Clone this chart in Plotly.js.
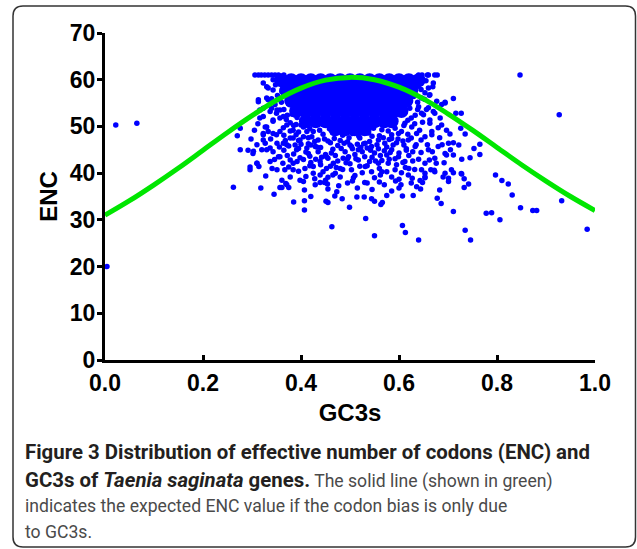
<!DOCTYPE html>
<html>
<head>
<meta charset="utf-8">
<script src="https://cdn.plot.ly/plotly-3.0.1.min.js"></script>
<style>
html,body{margin:0;padding:0;background:#ffffff;}
#chart{width:637px;height:549px;}
</style>
</head>
<body>
<div id="chart"></div>
<script>
// Expected ENC curve (GC3s -> ENC)
const curveGC3s = [0, 0.05, 0.1, 0.15, 0.2, 0.25, 0.3, 0.35, 0.4, 0.45, 0.5, 0.55, 0.6, 0.65, 0.7, 0.75, 0.8, 0.85, 0.9, 0.95, 1.0];
const curveENC  = [31.0, 34.1, 37.5, 41.1, 44.9, 48.7, 52.3, 55.6, 58.2, 59.9, 60.5, 60.0, 58.4, 55.9, 52.7, 49.2, 45.5, 41.8, 38.3, 35.0, 32.0];

// Dense (saturated) core of the gene cloud: one ENC level per row with its GC3s values
const coreRowENC = [59.9, 57.7, 55.5, 53.3, 51.1, 49.4];
const coreRowGC3s = [
  [0.36, 0.38, 0.40, 0.42, 0.44, 0.46, 0.48, 0.50, 0.52, 0.54, 0.56, 0.58, 0.60, 0.62, 0.64],
  [0.37, 0.39, 0.41, 0.43, 0.45, 0.47, 0.49, 0.51, 0.53, 0.55, 0.57, 0.59, 0.61, 0.625],
  [0.38, 0.40, 0.42, 0.44, 0.46, 0.48, 0.50, 0.52, 0.54, 0.56, 0.58, 0.60, 0.615],
  [0.39, 0.41, 0.43, 0.45, 0.47, 0.49, 0.51, 0.53, 0.55, 0.57, 0.59, 0.605],
  [0.41, 0.43, 0.45, 0.47, 0.49, 0.51, 0.53, 0.55, 0.57, 0.585],
  [0.47, 0.49, 0.51, 0.53]
];

// Individual genes outside the saturated core: [GC3s, ENC]
const genePoints = [
  // far outliers
  [0.004,20.0],[0.022,50.3],[0.065,50.7],[0.847,61.0],[0.927,52.5],[0.932,34.1],[0.984,28.0],
  // top row at ENC 61
  [0.306,61.0],[0.313,61.0],[0.319,61.0],[0.326,61.0],[0.333,61.0],[0.340,61.0],[0.347,61.0],[0.354,61.0],
  [0.640,61.0],[0.647,61.0],[0.658,61.0],[0.678,61.0],[0.365,61.0],
  // left fringe
  [0.262,37.0],[0.296,41.3],[0.276,45.0],[0.270,48.0],[0.276,49.6],
  [0.330,58.5],[0.333,55.7],[0.313,55.7],[0.316,53.5],[0.323,52.1],[0.343,57.8],[0.351,53.5],[0.330,49.9],
  [0.343,48.5],[0.323,47.1],[0.351,46.4],[0.302,44.2],[0.330,45.0],[0.357,43.5],[0.363,42.1],[0.378,42.8],
  [0.384,40.7],[0.351,40.7],[0.361,38.5],[0.371,37.5],[0.398,38.5],[0.425,40.0],[0.429,37.5],[0.343,60.0],[0.357,59.3],
  [0.323,59.3],[0.333,58.2],[0.330,56.1],[0.323,53.9],[0.316,51.8],[0.337,53.2],[0.347,54.7],[0.343,51.1],
  [0.357,51.8],[0.364,49.7],[0.350,48.2],[0.323,48.2],[0.310,46.1],[0.303,44.7],[0.337,45.4],[0.371,46.1],
  [0.384,47.5],[0.361,57.5],[0.354,59.7],
  [0.313,55.3],[0.340,53.9],[0.350,52.8],[0.343,51.4],[0.327,49.9],[0.333,48.9],[0.323,48.5],[0.327,46.4],
  [0.320,45.0],[0.343,44.6],[0.354,43.5],[0.337,42.5],[0.310,42.1],[0.296,40.7],[0.367,40.7],[0.384,42.1],
  [0.408,41.0],[0.439,39.6],[0.452,41.0],[0.480,39.2],[0.378,39.2],[0.364,46.4],[0.378,47.5],[0.398,47.1],
  [0.391,45.0],[0.415,44.2],[0.429,45.7],[0.452,43.5],[0.466,42.1],[0.486,43.2],[0.439,42.5],[0.357,48.9],
  [0.371,50.3],[0.384,49.2],[0.412,48.9],[0.422,47.8],[0.364,52.1],[0.357,53.5],
  [0.352,56.6],[0.360,55.2],[0.365,53.6],[0.372,52.4],[0.378,50.8],[0.390,50.4],[0.340,55.9],[0.348,58.9],
  [0.362,57.9],[0.370,51.5],[0.392,51.9],[0.400,50.3],
  [0.390,53.9],[0.382,52.6],[0.375,54.8],[0.368,56.6],[0.372,59.3],[0.355,60.4],
  [0.305,49.2],[0.298,47.3],[0.312,50.6],[0.292,44.9],[0.346,42.9],[0.356,45.6],[0.368,47.0],[0.338,47.3],
  [0.378,49.0],[0.372,43.8],[0.365,44.9],[0.388,46.0],[0.398,43.3],[0.392,42.5],
  // lower fringe
  [0.318,36.8],[0.328,39.4],[0.345,35.5],[0.310,42.1],[0.314,41.4],[0.341,41.0],[0.357,36.9],[0.361,36.9],
  [0.369,37.8],[0.375,36.9],[0.385,33.8],[0.407,36.4],[0.407,34.1],[0.407,32.1],[0.420,35.0],[0.451,34.0],
  [0.455,33.7],[0.463,28.5],[0.469,35.1],[0.473,36.0],[0.484,34.5],[0.499,32.7],[0.514,34.9],[0.529,34.9],
  [0.532,30.3],[0.544,34.5],[0.550,34.0],[0.550,26.6],[0.563,33.3],[0.566,33.7],[0.575,35.2],[0.607,28.8],
  [0.613,27.3],[0.607,35.1],[0.629,35.2],[0.640,25.7],[0.644,36.6],[0.678,34.6],[0.439,38.0],[0.448,38.0],
  [0.454,37.7],[0.477,37.3],[0.507,39.0],[0.535,37.9],[0.560,38.1],[0.593,38.3],[0.604,37.5],[0.627,38.9],
  [0.648,38.0],[0.653,39.0],[0.600,36.8],[0.405,38.2],
  [0.455,39.1],[0.505,38.3],[0.562,39.6],[0.472,41.2],[0.428,38.8],[0.418,41.6],
  // right fringe
  [0.848,32.6],[0.873,32.0],[0.881,32.0],[0.831,35.3],[0.823,37.7],[0.810,38.4],[0.797,39.6],[0.806,30.0],
  [0.778,31.4],[0.789,31.5],[0.746,25.7],[0.735,27.8],[0.711,31.8],[0.686,33.5],[0.683,36.4],[0.733,36.9],
  [0.742,37.7],[0.728,39.8],[0.733,38.8],[0.765,44.0],[0.765,46.2],[0.753,45.3],[0.745,43.3],[0.735,48.4],
  [0.726,49.6],[0.727,52.8],[0.716,52.8],[0.711,56.0],[0.694,55.2],[0.669,58.5],[0.662,56.7],[0.704,48.4],
  [0.711,46.5],[0.722,46.0],[0.705,45.0],[0.697,43.9],[0.711,43.9],[0.728,43.0],[0.692,42.2],[0.707,40.7],
  [0.711,40.1],[0.727,39.9],[0.701,38.9],[0.701,38.2],[0.690,39.2],[0.672,40.6],[0.665,40.7],[0.653,40.0],
  [0.643,38.4],[0.636,37.1],
  [0.646,60.4],[0.660,61.0],[0.673,61.0],[0.670,59.3],[0.660,58.2],[0.653,57.2],[0.663,56.8],[0.677,55.4],
  [0.687,54.7],[0.639,58.6],[0.646,56.1],[0.670,53.2],[0.660,54.0],[0.650,52.5],[0.684,51.8],[0.680,49.7],
  [0.663,50.7],[0.667,48.2],
  [0.640,54.2],[0.646,52.8],[0.663,51.4],[0.673,52.8],[0.694,55.0],[0.687,50.3],[0.697,49.2],[0.667,48.9],
  [0.653,47.8],[0.636,48.5],[0.626,49.9],[0.612,50.7],[0.619,47.1],[0.633,45.7],[0.660,45.0],[0.680,45.7],
  [0.694,44.2],[0.701,46.4],[0.673,43.2],[0.653,42.1],[0.646,40.7],[0.673,40.3],[0.694,40.0],[0.612,42.5],
  [0.599,43.5],[0.585,45.0],[0.571,46.4],[0.558,47.1],[0.544,45.7],[0.531,46.4],[0.517,45.0],[0.503,45.7],
  [0.497,43.5],[0.517,42.8],[0.558,42.1],[0.578,42.1],[0.592,40.7],[0.565,40.3],[0.544,40.3],[0.531,41.4],
  [0.503,40.7],[0.619,39.6],[0.653,39.2],[0.599,48.5],[0.585,48.2],[0.592,49.6],
  [0.632,59.5],[0.645,57.9],[0.630,56.4],[0.638,55.2],[0.622,53.9],[0.633,52.4],[0.618,51.3],[0.610,50.2],
  [0.648,50.9],[0.656,53.6],[0.652,55.8],
  [0.632,50.6],[0.642,49.2],[0.625,51.8],[0.638,53.6],[0.655,59.8],[0.645,47.1],[0.658,46.1],[0.668,44.6],
  [0.683,47.6],[0.676,42.1],[0.688,46.1],[0.662,42.8],[0.632,40.8],[0.613,41.2],
  // dense band below the core
  [0.420,46.0],[0.440,45.5],[0.460,46.5],[0.480,47.0],[0.500,46.0],[0.520,47.5],[0.540,46.8],[0.560,48.0],
  [0.580,47.2],[0.450,44.0],[0.470,43.8],[0.490,44.6],[0.510,44.0],[0.530,43.5],[0.550,44.3],[0.570,44.8],
  [0.430,43.0],[0.410,44.5],[0.400,46.2],[0.390,48.2],[0.610,46.0],[0.600,44.3],[0.620,43.8],[0.460,41.5],
  [0.480,41.0],[0.500,42.0],[0.520,41.5],[0.540,42.5],[0.560,41.0],[0.580,43.0],[0.440,41.8],[0.420,42.3],
  [0.470,40.0],[0.510,39.5],[0.550,39.0],[0.600,38.7],[0.620,41.0],[0.640,43.0],[0.410,39.3],[0.450,38.5],
  [0.530,38.0],[0.570,37.5],
  [0.385,50.2],[0.395,48.8],[0.405,49.9],[0.415,47.6],[0.425,48.9],[0.435,47.1],[0.445,48.3],[0.455,46.9],
  [0.465,48.6],[0.475,45.9],[0.485,48.1],[0.495,46.7],[0.505,48.5],[0.515,46.2],[0.525,48.9],[0.535,45.4],
  [0.545,47.9],[0.555,46.1],[0.565,49.3],[0.575,45.6],[0.585,47.4],[0.595,46.5],[0.605,48.9],[0.615,45.2],
  [0.625,47.5],[0.395,45.3],[0.405,42.9],[0.415,46.3],[0.435,44.6],[0.455,43.2],[0.465,45.1],[0.475,42.6],
  [0.495,43.1],[0.505,45.2],[0.525,44.6],[0.545,43.4],[0.565,42.7],[0.575,43.9],[0.595,41.8],[0.615,44.9],
  [0.635,46.1],[0.645,44.4],[0.385,44.1],[0.375,45.8],[0.365,48.1],[0.425,41.4],[0.445,40.3],[0.465,39.6],
  [0.485,40.8],[0.525,40.1],[0.535,41.6],[0.575,40.3],[0.605,40.1],[0.585,39.2],[0.455,36.6],[0.495,37.9],
  [0.515,36.8],[0.545,36.5],[0.585,36.2],[0.625,37.9],[0.395,40.4],[0.375,41.3],
  [0.395,47.0],[0.405,47.8],[0.418,49.5],[0.428,46.8],[0.438,49.2],[0.448,47.3],[0.458,49.5],[0.468,47.4],
  [0.478,49.0],[0.488,46.4],[0.498,47.6],[0.508,49.4],[0.518,47.9],[0.528,46.3],[0.538,48.6],[0.548,49.6],
  [0.558,45.2],[0.568,47.6],[0.578,49.0],[0.588,46.0],[0.598,47.3],[0.608,46.9],[0.618,48.3],[0.628,44.6],
  [0.412,45.4],[0.432,45.6],[0.442,43.4],[0.462,44.3],[0.482,45.3],[0.492,42.2],[0.512,43.1],[0.522,45.5],
  [0.542,44.9],[0.552,42.6],[0.562,43.8],[0.582,44.4],[0.592,43.1],[0.608,42.3],[0.628,42.6],[0.418,43.6]
];

// Tick values/labels
const xTickVals = [0, 0.2, 0.4, 0.6, 0.8, 1.0];
const xTickText = ['0.0', '0.2', '0.4', '0.6', '0.8', '1.0'];
const yTickVals = [0, 10, 20, 30, 40, 50, 60, 70];

// Caption lines
const B_ = '<span style="font-size:20.4px">', R_ = '<span style="color:#4a4a4a;font-size:17.6px">', E_ = '</span>';
const captionLines = [
  B_ + '<b>Figure 3 Distribution of effective number of codons (ENC) and</b>' + E_,
  B_ + '<b>GC3s of <i>Taenia saginata</i> genes.</b>' + E_ + R_ + ' The solid line (shown in green)' + E_,
  R_ + 'indicates the expected ENC value if the codon bias is only due' + E_,
  R_ + 'to GC3s.' + E_
];

// ---- build ----
const coreX = [], coreY = [];
coreRowGC3s.forEach((row, i) => row.forEach(v => { coreX.push(v); coreY.push(coreRowENC[i]); }));
const geneX = genePoints.map(p => p[0]);
const geneY = genePoints.map(p => p[1]);

const blue = '#0000ff';
const traces = [
  {type: 'scatter', mode: 'markers', x: coreX, y: coreY, hoverinfo: 'skip',
   marker: {color: blue, size: 14, line: {width: 0}}, showlegend: false},
  {type: 'scatter', mode: 'markers', x: geneX, y: geneY,
   marker: {color: blue, size: 5.5, line: {width: 0}}, showlegend: false},
  {type: 'scatter', mode: 'lines', x: curveGC3s, y: curveENC,
   line: {color: '#00e600', width: 5, shape: 'spline'}, showlegend: false}
];

// plot area in px: x 105..595, y 33..360
const L = 105, R = 595, T = 33, B = 360;
const px2x = p => (p - L) / (R - L);
const py2y = p => (B - p) / (B - T);

// rounded frame
const fl = px2x(13), fr = px2x(635.5), ft = py2y(6), fb = py2y(547);
const rx = 10 / (R - L), ry = 10 / (B - T);
const framePath = `M ${fl},${ft - ry} Q ${fl},${ft} ${fl + rx},${ft} L ${fr - rx},${ft} Q ${fr},${ft} ${fr},${ft - ry} ` +
  `L ${fr},${fb + ry} Q ${fr},${fb} ${fr - rx},${fb} L ${fl + rx},${fb} Q ${fl},${fb} ${fl},${fb + ry} Z`;

const captionY = [452.5, 479.5, 506, 532];
const annotations = captionLines.map((t, i) => ({
  xref: 'paper', yref: 'paper', x: px2x(23), y: py2y(captionY[i]),
  xanchor: 'left', yanchor: 'middle', showarrow: false, align: 'left',
  text: t, font: {family: 'Roboto, "Open Sans", sans-serif', size: 18, color: '#231f20'}
}));

const tickFont = {family: '"Liberation Sans", Arial, sans-serif', size: 23, color: '#000', weight: 'bold'};
const titleFont = {family: '"Liberation Sans", Arial, sans-serif', size: 24, color: '#000', weight: 'bold'};

const layout = {
  width: 637, height: 549,
  margin: {l: L, r: 637 - R, t: T, b: 549 - B, pad: 0},
  paper_bgcolor: '#ffffff', plot_bgcolor: '#ffffff',
  showlegend: false,
  xaxis: {
    range: [0, 1], tickvals: xTickVals, ticktext: xTickText,
    showline: true, linecolor: '#000', linewidth: 3, mirror: false,
    ticks: 'inside', ticklen: 5, tickwidth: 3, tickcolor: '#000',
    showgrid: false, zeroline: false, tickfont: tickFont,
    title: {text: 'GC3s', font: titleFont, standoff: 10}, automargin: false
  },
  yaxis: {
    range: [0, 70], tickvals: yTickVals,
    showline: true, linecolor: '#000', linewidth: 3, mirror: false,
    ticks: 'outside', ticklen: 5, tickwidth: 3, tickcolor: '#000',
    showgrid: false, zeroline: false, tickfont: tickFont, ticklabelstandoff: -3,
    title: {text: 'ENC', font: titleFont, standoff: 6}, automargin: false
  },
  shapes: [{type: 'path', xref: 'paper', yref: 'paper', path: framePath,
            line: {color: '#333333', width: 1.5}, fillcolor: 'rgba(0,0,0,0)', layer: 'below'}],
  annotations: annotations
};

Plotly.newPlot('chart', traces, layout, {displayModeBar: false, staticPlot: true});
</script>
</body>
</html>
